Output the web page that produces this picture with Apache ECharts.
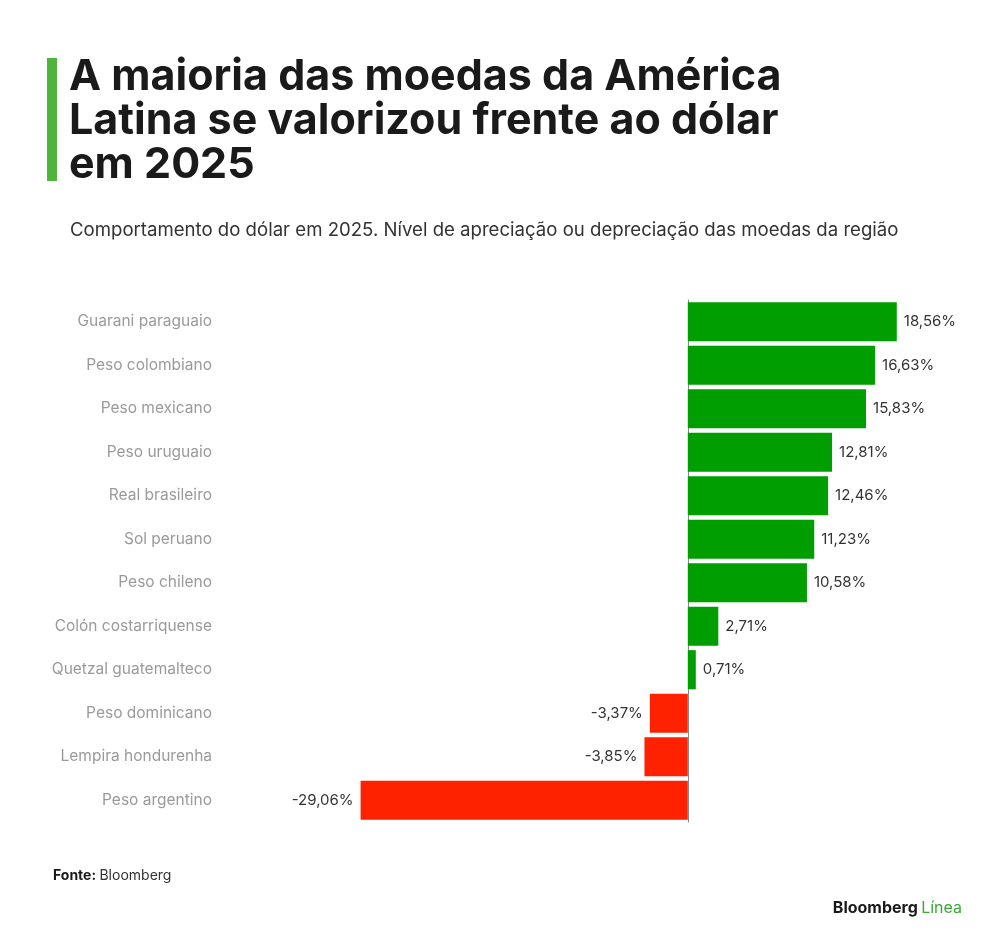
<!DOCTYPE html>
<html>
<head>
<meta charset="utf-8">
<script src="https://cdn.jsdelivr.net/npm/echarts@6/dist/echarts.min.js"></script>
<style>
html,body{margin:0;padding:0;background:#fff;}
#chart{width:1000px;height:950px;}
</style>
</head>
<body>
<div id="chart"></div>
<script>
const categories = [
  "Guarani paraguaio", "Peso colombiano", "Peso mexicano", "Peso uruguaio",
  "Real brasileiro", "Sol peruano", "Peso chileno", "Colón costarriquense",
  "Quetzal guatemalteco", "Peso dominicano", "Lempira hondurenha", "Peso argentino"
];
const values = [18.56, 16.63, 15.83, 12.81, 12.46, 11.23, 10.58, 2.71, 0.71, -3.37, -3.85, -29.06];
const positiveColor = "#009e00";
const negativeColor = "#ff2200";

const chart = echarts.init(document.getElementById('chart'), null, {renderer: 'canvas'});
const FONT = 'Inter, "Noto Sans", sans-serif';

chart.setOption({
  animation: false,
  backgroundColor: '#ffffff',
  graphic: [
    {type: 'rect', shape: {x: 47, y: 58, width: 10, height: 123}, style: {fill: '#4fb43a'}},
    {type: 'text', left: 69, top: 55, style: {
      text: 'A maioria das moedas da América\nLatina se valorizou frente ao dólar\nem 2025',
      font: 'bold 43px ' + FONT, fill: '#1a1a1a', lineHeight: 44
    }},
    {type: 'text', left: 70, top: 221, style: {
      text: 'Comportamento do dólar em 2025. Nível de apreciação ou depreciação das moedas da região',
      font: '18.6px ' + FONT, fill: '#333333'
    }},
    {type: 'text', left: 53, top: 869, style: {
      text: '{b|Fonte:} {n|Bloomberg}',
      rich: {
        b: {font: 'bold 14px ' + FONT, fill: '#1a1a1a'},
        n: {font: '14px ' + FONT, fill: '#333333'}
      }
    }},
    {type: 'text', right: 38, top: 900, style: {
      text: '{b|Bloomberg} {g|Línea}',
      rich: {
        b: {font: 'bold 16px ' + FONT, fill: '#1a1a1a'},
        g: {font: '16px ' + FONT, fill: '#3aaa35'}
      }
    }}
  ],
  grid: {left: 350, width: 563, top: 300, height: 522, containLabel: false},
  xAxis: {
    type: 'value', min: -30, max: 20,
    show: false
  },
  yAxis: {
    type: 'category', data: categories, inverse: true,
    axisLine: {show: true, onZero: true, lineStyle: {color: '#888888', width: 1}},
    axisTick: {show: false},
    axisLabel: {
      margin: 138, color: '#9a9a9a', fontSize: 15.5, fontFamily: FONT
    }
  },
  series: [{
    type: 'bar',
    barCategoryGap: '10%',
    data: values.map(v => ({
      value: v,
      itemStyle: {color: v >= 0 ? positiveColor : negativeColor},
      label: {position: v >= 0 ? 'right' : 'left'}
    })),
    label: {
      show: true, distance: 7, color: '#333333', fontSize: 15, fontFamily: FONT,
      formatter: p => p.value.toFixed(2).replace('.', ',') + '%'
    }
  }]
});
</script>
</body>
</html>
